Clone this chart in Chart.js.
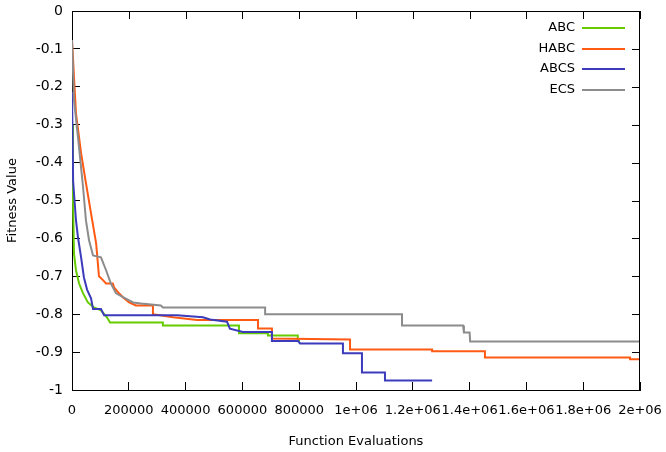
<!DOCTYPE html>
<html>
<head>
<meta charset="utf-8">
<script src="https://cdn.jsdelivr.net/npm/chart.js@4/dist/chart.umd.min.js"></script>
<style>
  html,body{ margin:0; padding:0; background:#fff; }
  #wrap{ width:666px; height:452px; }
</style>
</head>
<body>
<div id="wrap"><canvas id="chart" width="666" height="452"></canvas></div>
<script>
// series names, in legend order
const seriesNames = ['ABC', 'HABC', 'ABCS', 'ECS'];
const seriesColors = ['#66cc00', '#ff5a14', '#3b3bbb', '#8c8c8c'];

// function evaluations / fitness value (corner points of each curve)
const abcEvals = [0, 3500, 7000, 14000, 25000, 39000, 56000, 77000, 102000, 123000, 134000, 320000, 320000, 588000, 588000, 690000, 690000, 795000, 795000, 803000];
const abcFit   = [-0.30, -0.50, -0.64, -0.684, -0.719, -0.745, -0.769, -0.782, -0.79, -0.808, -0.822, -0.822, -0.83, -0.83, -0.85, -0.85, -0.856, -0.856, -0.87, -0.87];

const habcEvals = [0, 14000, 32000, 46000, 67000, 85000, 95000, 109000, 120000, 144000, 148000, 162000, 180000, 201000, 225000, 285000, 285000, 356000, 440000, 655000, 655000, 704000, 704000, 979000, 979000, 1268000, 1268000, 1454000, 1454000, 1965000, 1965000, 2000000];
const habcFit   = [-0.077, -0.27, -0.375, -0.44, -0.534, -0.613, -0.70, -0.71, -0.719, -0.719, -0.729, -0.742, -0.756, -0.769, -0.777, -0.777, -0.80, -0.808, -0.815, -0.815, -0.838, -0.838, -0.864, -0.867, -0.893, -0.893, -0.898, -0.898, -0.914, -0.914, -0.919, -0.919];

const abcsEvals = [0, 2000, 4000, 14000, 21000, 32000, 42000, 53000, 67000, 74000, 102000, 113000, 370000, 461000, 486000, 546000, 556000, 602000, 704000, 704000, 796000, 803000, 954000, 954000, 1021000, 1021000, 1102000, 1102000, 1268000];
const abcsFit   = [-0.214, -0.214, -0.45, -0.552, -0.597, -0.65, -0.703, -0.735, -0.758, -0.786, -0.786, -0.803, -0.803, -0.808, -0.814, -0.82, -0.838, -0.847, -0.847, -0.871, -0.871, -0.877, -0.877, -0.903, -0.903, -0.954, -0.954, -0.975, -0.975];

const ecsEvals = [0, 7000, 21000, 39000, 49000, 60000, 74000, 102000, 120000, 137000, 155000, 183000, 215000, 243000, 313000, 320000, 680000, 680000, 1162000, 1162000, 1377000, 1380000, 1400000, 1402000, 2000000];
const ecsFit   = [-0.077, -0.235, -0.333, -0.465, -0.552, -0.605, -0.645, -0.65, -0.684, -0.719, -0.745, -0.756, -0.769, -0.772, -0.777, -0.782, -0.782, -0.80, -0.80, -0.83, -0.83, -0.848, -0.848, -0.872, -0.872];

const xTitle = 'Function Evaluations';
const yTitle = 'Fitness Value';
const FONT = 'DejaVu Sans';

function pts(xs, ys){ return xs.map((x,i)=>({ x, y: ys[i] })); }

const allData = [pts(abcEvals, abcFit), pts(habcEvals, habcFit), pts(abcsEvals, abcsFit), pts(ecsEvals, ecsFit)];

// mirrored top/right ticks (inward) and the key; left/bottom come from the scales
const framePlugin = {
  id: 'frame',
  afterDraw(chart){
    const { ctx, chartArea: a, scales } = chart;
    const tl = 8;
    ctx.save();
    ctx.fillStyle = '#000';
    for(const t of scales.x.ticks){
      const px = Math.round(scales.x.getPixelForValue(t.value));
      ctx.fillRect(px, a.top, 1, tl);
    }
    for(const t of scales.y.ticks){
      const py = Math.round(scales.y.getPixelForValue(t.value));
      ctx.fillRect(a.right - tl, py, tl, 1);
    }
    ctx.fillRect(a.left, a.top, a.right - a.left, 1);
    ctx.fillRect(a.right - 1, a.top, 1, a.bottom - a.top);

    // key
    ctx.font = `13px "${FONT}"`;
    ctx.textAlign = 'right'; ctx.textBaseline = 'middle';
    chart.data.datasets.forEach((ds, i) => {
      const y = Math.round(a.top + 17 + i * 20.7);
      ctx.fillStyle = '#000';
      ctx.fillText(ds.label, a.right - 65, y);
      ctx.fillStyle = ds.borderColor;
      ctx.fillRect(a.right - 58, y - 1, 43, 2);
    });
    ctx.restore();
  }
};

new Chart(document.getElementById('chart'), {
  type: 'line',
  data: {
    datasets: seriesNames.map((name, i) => ({
      label: name,
      data: allData[i],
      borderColor: seriesColors[i],
      backgroundColor: seriesColors[i],
      borderWidth: 2,
      pointRadius: 0,
      tension: 0,
      fill: false,
      order: seriesNames.length - 1 - i
    }))
  },
  options: {
    responsive: false,
    animation: false,
    events: [],
    layout: { padding: { top: 11, right: 26, left: 0, bottom: 0 } },
    plugins: { legend: { display: false }, tooltip: { enabled: false } },
    scales: {
      x: {
        type: 'linear', min: 0, max: 2000000,
        grid: { display: true, drawOnChartArea: false, drawTicks: true, tickLength: -8, color: '#000' },
        border: { display: true, color: '#000', width: 1 },
        afterFit(s){ s.height = 62; s.paddingLeft = 0; s.paddingRight = 0; },
        ticks: {
          stepSize: 200000, autoSkip: false, maxRotation: 0, padding: 21,
          color: '#000', font: { family: FONT, size: 13 },
          callback: v => v >= 1000000 ? (Math.round(v / 100000) / 10) + 'e+06' : String(v)
        },
        title: { display: true, text: xTitle, color: '#000', font: { family: FONT, size: 13 }, padding: { top: 0, bottom: 3 } }
      },
      y: {
        type: 'linear', min: -1, max: 0,
        grid: { display: true, drawOnChartArea: false, drawTicks: true, tickLength: -8, color: '#000' },
        border: { display: true, color: '#000', width: 1 },
        afterFit(s){ s.width = 72; s.paddingTop = 0; s.paddingBottom = 0; },
        ticks: {
          stepSize: 0.1, autoSkip: false, padding: 17,
          color: '#000', font: { family: FONT, size: 14 },
          callback: v => String(Math.round(v * 10) / 10)
        },
        title: { display: true, text: yTitle, color: '#000', font: { family: FONT, size: 13 }, padding: { top: 5, bottom: 0 } }
      }
    }
  },
  plugins: [framePlugin]
});
</script>
</body>
</html>
